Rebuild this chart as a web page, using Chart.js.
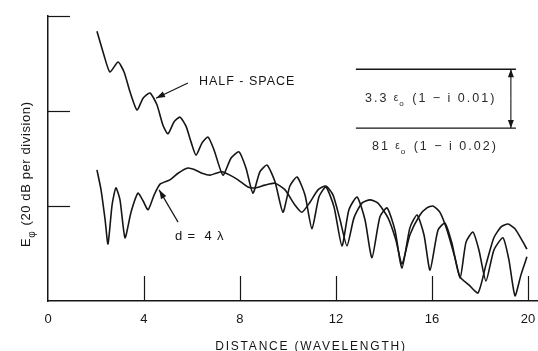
<!DOCTYPE html>
<html>
<head>
<meta charset="utf-8">
<script src="https://cdn.jsdelivr.net/npm/chart.js@4.4.1/dist/chart.umd.min.js"></script>
<style>
  html, body { margin: 0; padding: 0; background: #fff; }
  #wrap { width: 538px; height: 351px; }
</style>
</head>
<body>
<div id="wrap"><canvas id="fieldchart"></canvas></div>
<script>
// distance in wavelengths, field in dB (20 dB per division, 3 divisions)
const halfX = [2.04,2.33,2.58,2.92,3.17,3.42,3.71,3.96,4.25,4.54,4.79,5.0,5.25,5.5,5.75,5.96,6.17,6.42,6.67,6.92,
  7.29,7.63,7.96,8.25,8.54,8.83,9.13,9.46,9.79,10.08,10.38,10.71,11.0,11.29,11.58,11.92,12.25,12.54,12.88,13.21,
  13.5,13.83,14.13,14.46,14.75,15.08,15.38,15.67,15.92,16.25,16.54,16.83,17.17,17.42,17.71,17.96,18.25,18.58,18.96,19.21,
  19.46,19.71,19.96];
const halfDb = [56.8,51.8,48.2,50.3,48.2,44.0,40.2,42.7,43.8,41.3,37.0,35.2,37.7,38.7,36.8,33.5,30.7,33.3,34.5,31.8,
  26.5,30.1,31.4,28.0,22.7,27.2,28.6,25.1,18.7,24.2,26.1,22.3,15.2,21.9,24.0,19.8,11.6,19.2,21.9,17.1,
  9.1,17.7,19.6,14.9,6.9,15.4,18.1,13.9,6.5,14.9,16.4,12.2,4.8,12.4,14.5,10.7,4.2,10.7,13.3,8.6,
  1.1,5.5,9.3];

const layerX = [2.04,2.21,2.38,2.5,2.67,2.83,3.0,3.21,3.46,3.75,3.96,4.17,4.42,4.67,5.08,5.42,5.83,6.13,6.42,6.75,
  7.0,7.25,7.58,7.92,8.33,8.63,9.04,9.46,9.88,10.29,10.58,10.92,11.25,11.58,11.88,12.17,12.46,12.75,13.08,13.42,
  13.75,14.17,14.5,14.75,15.08,15.5,15.79,16.04,16.33,16.63,16.96,17.17,17.54,17.92,18.25,18.58,18.88,19.17,19.46,19.75,
  19.96];
const layerDb = [27.6,23.4,17.1,12.0,20.2,23.8,21.3,13.3,18.7,22.7,21.1,19.2,22.3,24.6,25.5,26.9,28.0,27.6,26.9,26.5,
  26.9,27.2,26.5,25.5,24.0,23.8,24.4,24.8,23.4,20.2,18.7,20.8,23.4,24.2,22.3,17.1,11.6,17.5,20.6,21.3,
  20.6,17.5,12.8,7.8,13.9,18.1,19.6,20.0,18.7,14.9,9.1,5.1,3.4,1.7,7.6,13.3,15.6,16.2,15.2,12.8,
  10.9];

const xTicks = [0, 4, 8, 12, 16, 20];
const yTicks = [20, 40, 60];

const INK = '#161616';
const FONT = '"Liberation Sans", Arial, sans-serif';

function pts(xs, ys) { return xs.map((v, i) => ({ x: v, y: ys[i] })); }

function arrow(ctx, x1, y1, x2, y2, len, half) {
  ctx.beginPath(); ctx.moveTo(x1, y1); ctx.lineTo(x2, y2); ctx.stroke();
  const a = Math.atan2(y2 - y1, x2 - x1), c = Math.cos(a), s = Math.sin(a);
  ctx.beginPath();
  ctx.moveTo(x2, y2);
  ctx.lineTo(x2 - len * c + half * s, y2 - len * s - half * c);
  ctx.lineTo(x2 - len * c - half * s, y2 - len * s + half * c);
  ctx.closePath(); ctx.fill();
}

// draw a run of text pieces [text, size, dy, dx]
function parts(ctx, x, y, list, spacing) {
  ctx.letterSpacing = spacing + 'px';
  let cx = x;
  list.forEach(([t, size, dy, dx]) => {
    ctx.font = size + 'px ' + FONT;
    cx += dx || 0;
    ctx.fillText(t, cx, y + (dy || 0));
    cx += ctx.measureText(t).width;
  });
}

const inkPlugin = {
  id: 'ink',
  afterDraw(chart) {
    const { ctx, chartArea: a, scales: { x, y } } = chart;
    const P = (dx, dy) => [x.getPixelForValue(dx), y.getPixelForValue(dy)];
    ctx.save();
    ctx.strokeStyle = INK; ctx.fillStyle = INK; ctx.lineWidth = 1.2;

    // inward tick marks
    xTicks.slice(1).forEach(v => {
      const px = Math.round(x.getPixelForValue(v)) + 0.5;
      ctx.beginPath(); ctx.moveTo(px, a.bottom); ctx.lineTo(px, a.bottom - 25); ctx.stroke();
    });
    yTicks.forEach(v => {
      const py = Math.round(y.getPixelForValue(v)) + 0.5;
      ctx.beginPath(); ctx.moveTo(a.left, py); ctx.lineTo(a.left + 22, py); ctx.stroke();
    });

    // axis titles
    ctx.textBaseline = 'alphabetic';
    ctx.textAlign = 'left';
    ctx.letterSpacing = '1.8px';
    ctx.font = '12px ' + FONT;
    const xt = 'DISTANCE (WAVELENGTH)';
    const w = ctx.measureText(xt).width;
    ctx.fillText(xt, 311 - w / 2, 350);

    ctx.save();
    ctx.translate(30, 247);
    ctx.rotate(-Math.PI / 2);
    parts(ctx, 0, 0, [['E', 13, 0], ['\u03C6', 10, 5, 0], [' (20 dB per division)', 13, 0, 1]], 0.6);
    ctx.restore();

    // curve labels
    ctx.textBaseline = 'middle';
    let p = P(6.29, 46.3);
    parts(ctx, p[0], p[1], [['HALF - SPACE', 12.5, 0]], 1);
    let p1 = P(5.83, 45.9), p2 = P(4.5, 42.7);
    arrow(ctx, p1[0], p1[1], p2[0], p2[1], 9, 3);

    p = P(5.29, 13.7);
    parts(ctx, p[0], p[1], [['d', 13, 0], [' =  4 ', 13, 0], ['\u03BB', 13, 0]], 0.8);
    p1 = P(5.42, 16.6); p2 = P(4.63, 23.4);
    arrow(ctx, p1[0], p1[1], p2[0], p2[1], 9, 3);

    // layer sketch
    const l1 = P(12.83, 48.8), l2 = P(19.5, 36.4);
    ctx.lineWidth = 1.4;
    ctx.beginPath();
    ctx.moveTo(l1[0], l1[1]); ctx.lineTo(l2[0], l1[1]);
    ctx.moveTo(l1[0], l2[1]); ctx.lineTo(l2[0], l2[1]);
    ctx.stroke();
    ctx.lineWidth = 1.1;
    const ax = x.getPixelForValue(19.29), my = (l1[1] + l2[1]) / 2;
    arrow(ctx, ax, my, ax, l1[1], 8, 3);
    arrow(ctx, ax, my, ax, l2[1], 8, 3);

    ctx.fillStyle = '#2a2a2a';
    p = P(13.21, 42.7);
    parts(ctx, p[0], p[1], [['3.3 ', 12.5, 0], ['\u03B5', 10, 0], ['o', 8, 6, -1], [' (1 \u2212 i 0.01)', 12.5, 0, 1]], 2);
    p = P(13.5, 32.6);
    parts(ctx, p[0], p[1], [['81 ', 12.5, 0], ['\u03B5', 10, 0], ['o', 8, 6, -1], [' (1 \u2212 i 0.02)', 12.5, 0, 1]], 2);
    ctx.restore();
  }
};

new Chart(document.getElementById('fieldchart'), {
  type: 'line',
  data: {
    datasets: [
      { label: 'Half-space', data: pts(halfX, halfDb) },
      { label: 'd = 4 lambda', data: pts(layerX, layerDb) }
    ]
  },
  options: {
    responsive: true,
    maintainAspectRatio: false,
    animation: false,
    events: [],
    layout: { padding: { top: 16, right: 0, left: 0, bottom: 0 } },
    elements: {
      point: { radius: 0 },
      line: { borderColor: INK, borderWidth: 1.6, tension: 0.2, fill: false }
    },
    plugins: { legend: { display: false }, tooltip: { enabled: false } },
    scales: {
      x: {
        type: 'linear', min: 0, max: 20.42,
        afterBuildTicks: s => { s.ticks = xTicks.map(v => ({ value: v })); },
        afterFit: s => { s.height = 50; s.paddingRight = 0; s.paddingLeft = 0; },
        grid: { display: false, drawTicks: false },
        border: { display: true, color: INK, width: 1.5 },
        ticks: { color: INK, padding: 11, font: { size: 13, family: FONT } }
      },
      y: {
        type: 'linear', min: 0, max: 60,
        afterFit: s => { s.width = 48; },
        grid: { display: false, drawTicks: false },
        border: { display: true, color: INK, width: 1.5 },
        ticks: { display: false }
      }
    }
  },
  plugins: [inkPlugin]
});
</script>
</body>
</html>
